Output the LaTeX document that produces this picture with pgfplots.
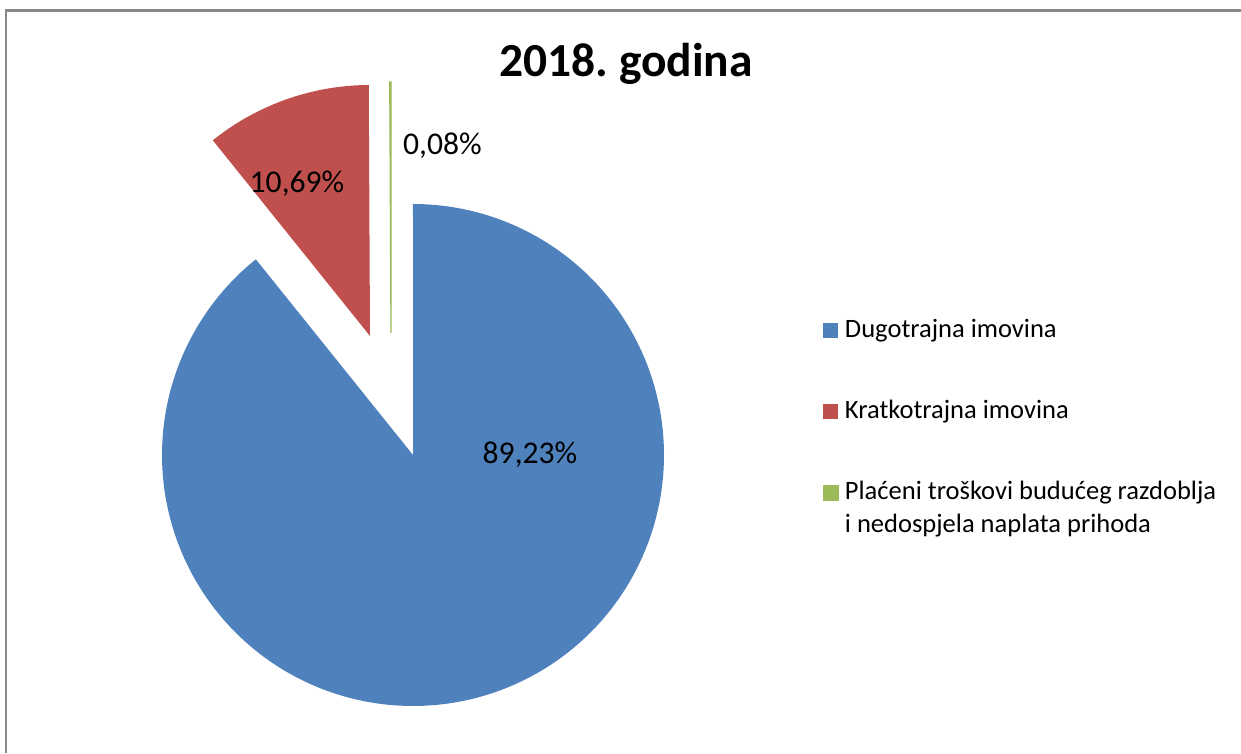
\documentclass[border=0pt]{standalone}
\usepackage{pgfplots}
\pgfplotsset{compat=1.18}
\usepackage{fontspec}
\setmainfont{Carlito}
\definecolor{cblue}{HTML}{4F81BD}
\definecolor{cred}{HTML}{C0504D}
\definecolor{cgreen}{HTML}{9BBB59}
\definecolor{cframe}{HTML}{878787}
% shares (percent)
\def\vA{89.23}
\def\vB{10.69}
\def\vC{0.08}
\pgfmathsetmacro\aA{90}
\pgfmathsetmacro\aB{\aA-3.6*\vA}
\pgfmathsetmacro\aC{\aB-3.6*\vB}
\pgfmathsetmacro\aD{\aC-3.6*\vC}
\begin{document}
\begin{tikzpicture}
\begin{axis}[name=ax,
  scale only axis, width=12.41cm, height=7.53cm,
  xmin=0, xmax=1241, ymin=0, ymax=753,
  hide axis, clip=false,
  legend style={at={(axis cs:822,437.4)}, anchor=north west, draw=none, fill=none,
    font=\fontsize{7.55}{9.4}\selectfont, row sep=15.1pt, inner sep=0pt,
    nodes={inner sep=0pt, text height=6pt, text depth=2pt}},
  legend cell align=left,
  /tikz/every even column/.append style={column sep=0pt},
  legend image code/.code={\fill[#1] (0cm,-0.075cm) rectangle (0.15cm,0.075cm); \path (0.21cm,0);},
]
\draw[cframe, line width=0.6pt] (axis cs:6,0) -- (axis cs:6,742.5) -- (axis cs:1241,742.5);
\addplot[fill=cblue, draw=none, domain=\aB:\aA, samples=240, variable=\t]
  ({413+251*cos(\t)},{298+251*sin(\t)}) -- (axis cs:413,298) -- cycle;
\addlegendentry{Dugotrajna imovina}
\addplot[fill=cred, draw=none, domain=\aC:\aB, samples=60, variable=\t]
  ({370+251*cos(\t)},{417+251*sin(\t)}) -- (axis cs:370,417) -- cycle;
\addlegendentry{Kratkotrajna imovina}
\addplot[fill=cgreen, draw=cgreen, line width=0.35pt, domain=\aD:\aC, samples=5, variable=\t]
  ({391+251*cos(\t)},{420+251*sin(\t)}) -- (axis cs:391,420) -- cycle;
\addlegendentry{\begin{tabular}[t]{@{}l@{}}Plaćeni troškovi budućeg razdoblja\\i nedospjela naplata prihoda\end{tabular}}
\node[anchor=base, font=\fontsize{9}{11}\selectfont] at (axis cs:530,289) {89,23\%};
\node[anchor=base, font=\fontsize{9}{11}\selectfont] at (axis cs:297,560) {10,69\%};
\node[anchor=base, font=\fontsize{9}{11}\selectfont] at (axis cs:442.5,598) {0,08\%};
\node[anchor=base, font=\fontsize{13.5}{16}\selectfont\bfseries] at (axis cs:626,676) {2018.\ godina};
\end{axis}
\pgfresetboundingbox
\path[use as bounding box] (ax.south west) rectangle (ax.north east);
\end{tikzpicture}
\end{document}
